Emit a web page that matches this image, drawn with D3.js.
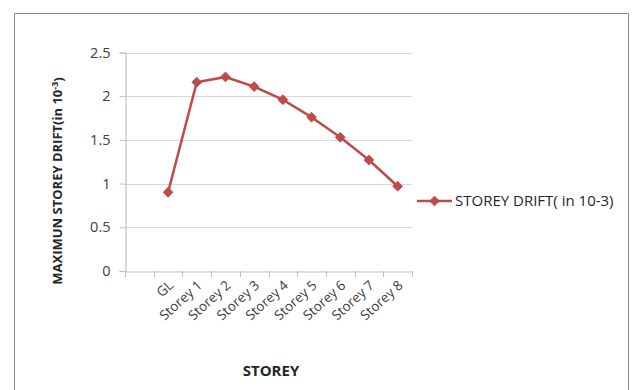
<!DOCTYPE html>
<html>
<head>
<meta charset="utf-8">
<script src="https://cdnjs.cloudflare.com/ajax/libs/d3/7.8.5/d3.min.js"></script>
<style>
  html, body { margin: 0; padding: 0; background: #fff; }
  svg { display: block; }
  text { font-family: "Open Sans", Lato, sans-serif; }
</style>
</head>
<body>
<svg id="chart" width="633" height="390"></svg>
<script>
// Storey categories (first slot is an empty row in the source table)
const categories = ["", "GL", "Storey 1", "Storey 2", "Storey 3", "Storey 4", "Storey 5", "Storey 6", "Storey 7", "Storey 8"];
// Maximum storey drift (in 10^-3)
const driftValues = [null, 0.9, 2.16, 2.22, 2.11, 1.96, 1.76, 1.53, 1.27, 0.97];
const yTicks = [0, 0.5, 1, 1.5, 2, 2.5];
const seriesName = "STOREY DRIFT( in 10-3)";

const svg = d3.select("#chart");
const red = "#BE4B48";

// chart frame
svg.append("rect")
  .attr("x", 14.5).attr("y", 13.5)
  .attr("width", 614).attr("height", 400)
  .attr("fill", "#fff").attr("stroke", "#8c8c8c").attr("stroke-width", 1);

const plot = { left: 125, right: 412, top: 52.5, bottom: 271 };

const x = d3.scaleBand().domain(categories).range([plot.left, plot.right]);
const y = d3.scaleLinear().domain([0, 2.5]).range([plot.bottom, plot.top]);

// horizontal gridlines
svg.append("g").selectAll("line").data(yTicks.filter(d => d > 0)).join("line")
  .attr("x1", plot.left).attr("x2", plot.right)
  .attr("y1", d => Math.round(y(d)) + 0.5).attr("y2", d => Math.round(y(d)) + 0.5)
  .attr("stroke", "#d9d9d9").attr("stroke-width", 1.2);

// y axis
const yAxis = svg.append("g")
  .attr("transform", `translate(${plot.left + 0.5},0)`)
  .call(d3.axisLeft(y).tickValues(yTicks).tickSize(6).tickPadding(9).tickFormat(d3.format("")));
yAxis.select(".domain").attr("stroke", "#bfbfbf").attr("stroke-width", 1.2);
yAxis.selectAll(".tick line").attr("stroke", "#bfbfbf");
yAxis.selectAll(".tick text").attr("fill", "#404040").style("font-size", "14.5px").style("font-family", "'Open Sans', sans-serif");

// x axis
const xAxis = svg.append("g")
  .attr("transform", `translate(0,${plot.bottom + 0.5})`)
  .call(d3.axisBottom(x).tickSize(0).tickFormat(""));
xAxis.select(".domain").attr("stroke", "#bfbfbf").attr("stroke-width", 1.2);

// boundary tick marks between categories
const bounds = categories.map(c => x(c)).concat([plot.right]);
svg.append("g").selectAll("line").data(bounds).join("line")
  .attr("x1", d => Math.round(d) + 0.5).attr("x2", d => Math.round(d) + 0.5)
  .attr("y1", plot.bottom).attr("y2", plot.bottom + 6)
  .attr("stroke", "#bfbfbf").attr("stroke-width", 1);

// rotated category labels
svg.append("g").selectAll("text").data(categories.filter(c => c !== "")).join("text")
  .attr("transform", c => `translate(${x(c) + x.bandwidth() / 2 + 3},${plot.bottom + 12}) rotate(-42)`)
  .attr("text-anchor", "end")
  .attr("dy", "0.35em")
  .attr("fill", "#404040")
  .style("font-size", "13.5px")
  .text(c => c);

// series line and markers
const pts = categories.map((c, i) => ({ c, v: driftValues[i] })).filter(d => d.v != null);
const line = d3.line().x(d => x(d.c) + x.bandwidth() / 2).y(d => y(d.v));
svg.append("path").datum(pts)
  .attr("d", line)
  .attr("fill", "none").attr("stroke", red).attr("stroke-width", 2.5)
  .attr("stroke-linejoin", "round");

const diamond = d3.symbol().type(d3.symbolDiamond2).size(60);
svg.append("g").selectAll("path").data(pts).join("path")
  .attr("transform", d => `translate(${x(d.c) + x.bandwidth() / 2},${y(d.v)})`)
  .attr("d", diamond)
  .attr("fill", red).attr("stroke", red).attr("stroke-width", 1);

// legend
const lg = svg.append("g").attr("transform", "translate(417,201)");
lg.append("line").attr("x1", 0).attr("x2", 35).attr("y1", 0).attr("y2", 0)
  .attr("stroke", red).attr("stroke-width", 2.5);
lg.append("path").attr("transform", "translate(17.5,0)").attr("d", diamond)
  .attr("fill", red).attr("stroke", red);
lg.append("text").attr("x", 38).attr("y", 0).attr("dy", "0.35em")
  .attr("fill", "#262626").style("font-size", "15px")
  .text(seriesName);

// axis titles
svg.append("text")
  .attr("x", 271).attr("y", 371).attr("dy", "0.35em")
  .attr("text-anchor", "middle")
  .attr("fill", "#262626").style("font-size", "15px").style("font-weight", "bold")
  .text("STOREY");

const yTitle = svg.append("text")
  .attr("transform", "translate(57,181) rotate(-90)")
  .attr("text-anchor", "middle").attr("dy", "0.35em")
  .attr("fill", "#262626").style("font-size", "13px").style("font-weight", "bold");
yTitle.append("tspan").text("MAXIMUN STOREY DRIFT(in 10");
yTitle.append("tspan").attr("dy", "-0.45em").style("font-size", "9px").text("-3");
yTitle.append("tspan").attr("dy", "0.45em").text(")");
</script>
</body>
</html>
